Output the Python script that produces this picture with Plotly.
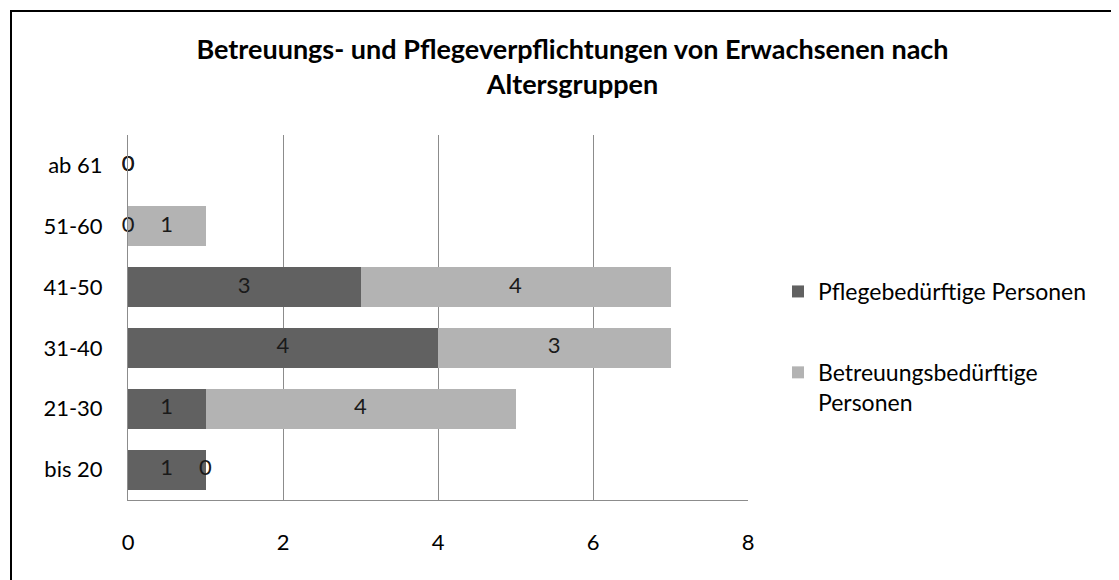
import plotly.graph_objects as go

categories = ["bis 20", "21-30", "31-40", "41-50", "51-60", "ab 61"]
pflege = [1, 1, 4, 3, 0, 0]
betreuung = [0, 4, 3, 4, 1, 0]
x_ticks = [0, 2, 4, 6, 8]
series_names = ["Pflegebedürftige Personen", "Betreuungsbedürftige<br>Personen"]
title_text = "Betreuungs- und Pflegeverpflichtungen von Erwachsenen nach<br>Altersgruppen"

FONT = "Lato"
OFF = 8  # default page body margin
W, H = 1119 - OFF, 580 - OFF
L, R, T, B = 120, 371, 127, 80
pw, ph = W - L - R, H - T - B


def px_x(p):
    return (p - OFF - L) / pw


def px_y(p):
    return (H - B - (p - OFF)) / ph


fig = go.Figure()
fig.add_trace(go.Bar(y=categories, x=pflege, orientation="h", name=series_names[0],
                     marker=dict(color="#616161", line=dict(width=0)), legendgroup="a"))
fig.add_trace(go.Bar(y=categories, x=betreuung, orientation="h", name=series_names[1],
                     marker=dict(color="#b3b3b3", line=dict(width=0)), legendgroup="b"))

# data labels at segment centres
lx, ly, lt = [], [], []
for c, p, b in zip(categories, pflege, betreuung):
    lx.append(p / 2); ly.append(c); lt.append(str(p))
    lx.append(p + b / 2); ly.append(c); lt.append(str(b))
fig.add_trace(go.Scatter(x=lx, y=ly, text=lt, mode="text", showlegend=False,
                         textfont=dict(family=FONT, size=22, color="#1a1a1a"),
                         cliponaxis=False, hoverinfo="skip"))

fig.add_shape(type="rect", xref="paper", yref="paper",
              x0=px_x(11), x1=px_x(1140), y0=px_y(600), y1=px_y(11),
              line=dict(color="black", width=2), layer="above")

fig.update_layout(
    width=W, height=H,
    margin=dict(l=L, r=R, t=T, b=B, autoexpand=False),
    barmode="stack", bargap=0.34,
    plot_bgcolor="white", paper_bgcolor="white",
    font=dict(family=FONT, size=22, color="black"),
    title=dict(text=title_text, x=px_x(572.5), xref="paper", xanchor="center",
               y=1 - 51 / H, yref="container", yanchor="top",
               font=dict(family=FONT, size=27, color="black", weight="bold")),
    legend=dict(x=px_x(778), y=px_y(270), xanchor="left", yanchor="top",
                traceorder="grouped", tracegroupgap=48, valign="top",
                font=dict(family=FONT, size=23, color="black"),
                bgcolor="rgba(0,0,0,0)"),
    xaxis=dict(range=[0, 8], tickvals=x_ticks, showgrid=True, gridcolor="#8c8c8c",
               gridwidth=1, zeroline=False, showline=True, linecolor="#8c8c8c",
               linewidth=1, ticks="", ticklabelstandoff=23,
               tickfont=dict(family=FONT, size=22, color="black"), fixedrange=True),
    yaxis=dict(categoryorder="array", categoryarray=categories, showgrid=False,
               zeroline=False, showline=True, linecolor="#8c8c8c", linewidth=1,
               ticks="", ticklabelstandoff=20,
               tickfont=dict(family=FONT, size=22, color="black"), fixedrange=True),
)

fig.write_html("out.html")
